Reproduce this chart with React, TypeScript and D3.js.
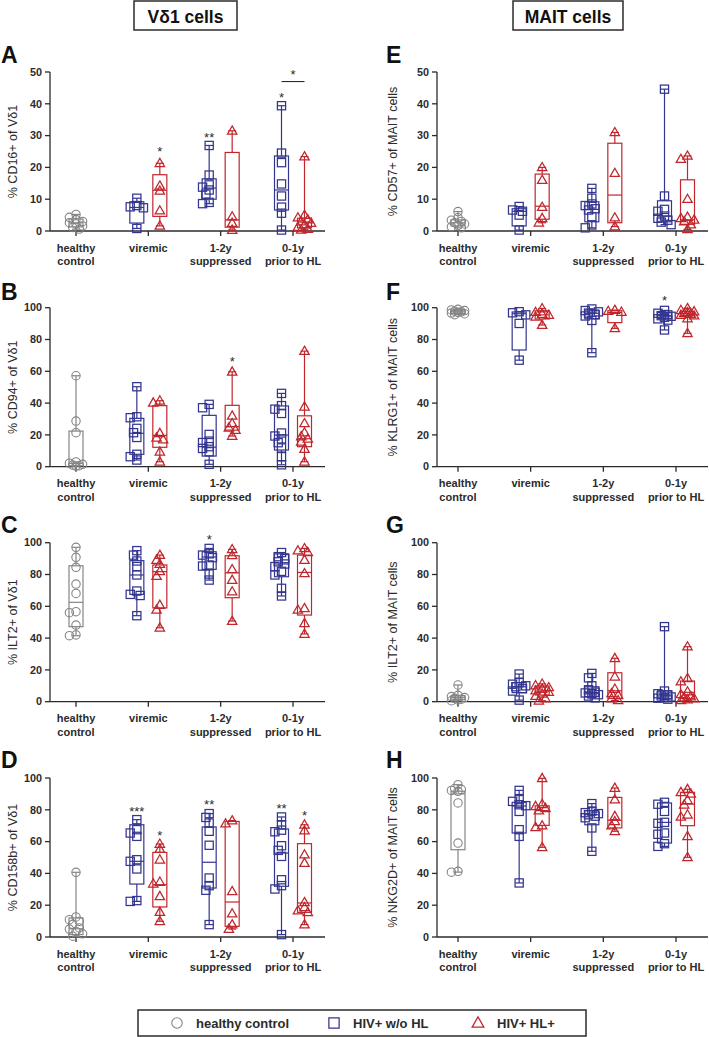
import React from "react";
import * as d3 from "d3";

// ---------- categories & groups ----------
const categoryLabels = [["healthy", "control"], ["viremic"], ["1-2y", "suppressed"], ["0-1y", "prior to HL"]];
const groupCategory = [0, 1, 1, 2, 2, 3, 3];
const groupType = ["hc", "b", "r", "b", "r", "b", "r"];
const legendLabels = ["healthy control", "HIV+ w/o HL", "HIV+ HL+"];

// ---------- Panel A: % CD16+ of Vδ1 ----------
const cd16Points = [
  [5.2, 4.3, 3.6, 3.0, 2.6, 2.2, 1.6, 1.1, 0.6],
  [10.3, 8.0, 7.6, 7.3, 0.8],
  [21.3, 14.2, 12.6, 6.4, 1.6],
  [26.9, 17.6, 14.5, 13.8, 12.9, 11.6, 9.0, 8.6],
  [31.5, 4.5, 2.5, 0.3],
  [39.4, 24.5, 21.5, 14.8, 11.0, 7.5, 5.6, 0.3],
  [23.4, 5.0, 4.2, 3.6, 3.0, 2.5, 2.0, 1.2, 0.6, 0.4],
];
const cd16Box = [
  [0.6, 1.3, 2.6, 3.8, 5.2],
  [0.8, 2.5, 7.4, 9.2, 10.3],
  [1.6, 4.6, 12.8, 17.7, 21.3],
  [8.6, 10.0, 13.5, 16.4, 26.9],
  [0.3, 1.2, 3.5, 24.7, 31.5],
  [0.3, 6.6, 12.9, 23.6, 39.4],
  [0.4, 1.0, 2.8, 4.0, 23.4],
];
const cd16Sig = [{ g: 2, t: "*", v: 26 }, { g: 3, t: "**", v: 30.5 }, { g: 5, t: "*", v: 43 }];
const cd16Bracket = [{ g1: 5, g2: 6, v: 47, t: "*" }];

// ---------- Panel B: % CD94+ of Vδ1 ----------
const cd94Points = [
  [57.2, 28.7, 21.4, 3.0, 2.2, 1.5, 1.0, 0.6, 0.4],
  [50.3, 31.4, 30.8, 24.1, 21.4, 18.4, 7.8, 6.3, 4.2],
  [41.5, 40.2, 21.0, 18.2, 17.0, 9.4, 3.1],
  [39.2, 37.1, 20.3, 16.1, 15.2, 12.6, 11.5, 9.4, 1.5],
  [59.7, 32.0, 27.2, 24.5, 23.0, 19.3],
  [46.1, 38.4, 36.2, 33.5, 21.2, 19.3, 17.5, 15.1, 11.8, 6.3, 1.2],
  [72.7, 37.7, 27.2, 21.4, 19.0, 17.5, 15.7, 11.1, 3.1],
];
const cd94Box = [
  [0.4, 0.6, 2.1, 22.4, 57.2],
  [4.2, 7.8, 21.0, 30.4, 50.3],
  [3.1, 12.2, 19.7, 38.4, 41.5],
  [1.5, 6.7, 12.3, 32.3, 39.2],
  [19.3, 23.0, 25.2, 38.6, 59.7],
  [1.2, 10.5, 19.9, 38.2, 46.1],
  [3.1, 12.6, 17.6, 32.0, 72.7],
];
const cd94Sig = [{ g: 4, t: "*", v: 68 }];

// ---------- Panel C: % ILT2+ of Vδ1 ----------
const ilt2vPoints = [
  [97.1, 90.8, 84.5, 74.0, 68.1, 56.6, 56.0, 48.2, 42.0, 41.5],
  [95.0, 92.2, 88.5, 85.0, 79.7, 69.6, 67.5, 66.8, 54.1],
  [92.2, 89.1, 86.6, 82.0, 79.0, 60.8, 57.7, 46.5],
  [96.4, 93.0, 92.2, 90.6, 86.0, 85.3, 80.3, 76.5],
  [95.8, 92.0, 83.2, 76.5, 69.2, 50.7],
  [93.8, 91.2, 90.0, 88.0, 86.6, 85.0, 82.0, 79.7, 71.3, 66.5],
  [96.4, 95.0, 94.0, 89.1, 80.7, 58.7, 57.7, 49.3, 42.6],
];
const ilt2vBox = [
  [41.5, 47.2, 62.5, 85.5, 97.1],
  [54.1, 67.5, 79.7, 88.7, 95.0],
  [46.5, 59.0, 81.8, 86.0, 92.2],
  [76.5, 83.2, 91.0, 94.3, 96.4],
  [50.7, 65.4, 81.1, 91.8, 95.8],
  [66.5, 78.6, 86.6, 93.0, 93.8],
  [42.6, 54.5, 81.3, 92.2, 96.4],
];
const ilt2vSig = [{ g: 3, t: "*", v: 103.8 }];

// ---------- Panel D: % CD158b+ of Vδ1 ----------
const cd158Points = [
  [40.7, 12.6, 10.9, 9.8, 8.0, 5.7, 5.0, 3.5, 2.0, 0.5],
  [73.8, 67.5, 65.4, 63.3, 48.6, 47.6, 42.8, 22.9, 22.4],
  [58.5, 55.3, 48.6, 34.6, 33.5, 25.6, 15.7, 9.9],
  [77.6, 75.2, 71.7, 66.5, 57.7, 37.1, 32.3, 29.4, 7.8],
  [73.2, 71.3, 28.7, 14.7, 7.8, 5.0],
  [75.5, 70.6, 67.2, 66.2, 57.4, 54.5, 50.7, 36.0, 32.3, 30.2, 1.5],
  [70.6, 66.9, 51.8, 46.5, 21.8, 18.6, 16.6, 15.5, 7.8],
];
const cd158Box = [
  [0.5, 1.5, 5.2, 12.0, 40.7],
  [22.4, 33.3, 47.6, 70.6, 73.8],
  [9.9, 18.9, 32.9, 53.2, 58.5],
  [7.8, 30.8, 47.0, 69.2, 77.6],
  [5.0, 6.7, 22.0, 72.7, 73.2],
  [1.5, 31.9, 52.8, 67.9, 75.5],
  [7.8, 15.5, 21.4, 58.7, 70.6],
];
const cd158Sig = [
  { g: 1, t: "***", v: 81 }, { g: 2, t: "*", v: 65.8 }, { g: 3, t: "**", v: 85.3 },
  { g: 5, t: "**", v: 82.6 }, { g: 6, t: "*", v: 78 },
];

// ---------- Panel E: % CD57+ of MAIT ----------
const cd57Points = [
  [6.1, 4.2, 3.4, 3.0, 2.6, 2.2, 1.8, 1.3, 1.0],
  [7.7, 6.6, 6.2, 5.0, 0.3],
  [20.0, 16.0, 7.5, 4.0, 2.6],
  [13.4, 10.3, 8.5, 8.0, 7.0, 6.6, 4.5, 1.9, 1.0],
  [31.0, 18.2, 4.2, 1.4],
  [44.6, 11.0, 6.8, 6.2, 4.7, 4.0, 3.4, 2.8, 2.0],
  [23.6, 22.6, 10.0, 4.4, 4.0, 3.5, 3.0, 2.0, 0.5],
];
const cd57Box = [
  [1.0, 1.6, 2.6, 3.5, 6.1],
  [0.3, 1.6, 6.2, 7.0, 7.7],
  [2.6, 3.7, 7.8, 17.9, 20.0],
  [1.0, 2.9, 6.8, 9.2, 13.4],
  [1.4, 2.6, 11.3, 27.6, 31.0],
  [2.0, 2.9, 4.7, 9.5, 44.6],
  [0.5, 2.1, 3.5, 16.1, 23.6],
];

// ---------- Panel F: % KLRG1+ of MAIT ----------
const klrg1Points = [
  [99.0, 98.6, 98.2, 97.8, 97.4, 97.0, 96.6, 96.2, 95.6],
  [97.5, 96.8, 95.5, 90.1, 67.0],
  [99.5, 97.2, 96.0, 95.4, 94.2, 89.1],
  [99.2, 98.2, 97.4, 96.6, 95.6, 94.8, 92.0, 71.7],
  [98.5, 97.8, 97.3, 87.0],
  [98.3, 96.5, 95.5, 95.0, 94.6, 94.0, 93.0, 92.2, 86.0],
  [99.6, 98.4, 97.6, 97.0, 96.4, 96.0, 95.4, 95.0, 93.2, 83.9],
];
const klrg1Box = [
  [95.6, 96.4, 97.4, 98.4, 99.0],
  [67.0, 73.4, 96.2, 97.3, 97.5],
  [89.1, 92.9, 95.5, 98.1, 99.5],
  [71.7, 93.0, 96.5, 98.5, 99.2],
  [87.0, 90.6, 97.0, 98.1, 98.5],
  [86.0, 93.3, 95.0, 96.9, 98.3],
  [83.9, 95.0, 96.2, 97.5, 99.6],
];
const klrg1Sig = [{ g: 5, t: "*", v: 106.3 }];

// ---------- Panel G: % ILT2+ of MAIT ----------
const ilt2mPoints = [
  [10.5, 4.0, 3.2, 2.6, 2.1, 1.6, 1.1, 0.6],
  [17.4, 12.0, 11.0, 10.0, 9.4, 8.2, 6.7, 1.0],
  [11.2, 10.2, 9.0, 8.0, 7.0, 6.0, 5.0, 3.5, 2.0, 0.6],
  [17.8, 15.0, 10.0, 7.5, 6.0, 5.5, 5.0, 4.4, 3.6, 2.4],
  [27.3, 15.7, 8.0, 5.2, 4.0, 2.0, 0.8],
  [47.2, 6.7, 5.0, 4.2, 3.6, 3.0, 2.6, 2.2, 1.6],
  [34.6, 14.7, 12.6, 6.3, 4.6, 3.2, 2.6, 2.0, 1.4, 0.8],
];
const ilt2mBox = [
  [0.6, 1.2, 2.5, 3.8, 10.5],
  [1.0, 5.7, 9.4, 12.0, 17.4],
  [0.6, 4.2, 6.7, 9.9, 11.2],
  [2.4, 3.2, 5.7, 9.4, 17.8],
  [0.8, 2.1, 6.9, 18.2, 27.3],
  [1.6, 2.1, 3.6, 6.9, 47.2],
  [0.8, 2.1, 5.9, 13.0, 34.6],
];

// ---------- Panel H: % NKG2D+ of MAIT ----------
const nkg2dPoints = [
  [95.8, 93.4, 92.8, 92.2, 91.6, 84.3, 59.1, 41.3, 40.8],
  [92.2, 86.4, 85.3, 83.2, 82.6, 79.0, 67.5, 63.3, 34.0],
  [99.8, 83.5, 82.2, 81.0, 79.5, 70.0, 69.0, 56.4],
  [83.9, 79.2, 78.2, 77.6, 76.9, 76.0, 75.0, 68.6, 53.9],
  [93.7, 86.4, 75.9, 72.7, 70.0, 66.5],
  [84.7, 83.5, 79.0, 72.1, 71.5, 65.4, 64.6, 58.7, 57.0],
  [92.9, 91.0, 90.0, 86.0, 83.2, 76.9, 75.5, 63.3, 50.1],
];
const nkg2dBox = [
  [40.8, 54.9, 90.0, 91.7, 95.8],
  [34.0, 65.4, 82.4, 84.7, 92.2],
  [56.4, 70.2, 79.5, 82.5, 99.8],
  [53.9, 70.6, 76.9, 79.5, 83.9],
  [66.5, 68.6, 73.4, 87.8, 93.7],
  [57.0, 59.1, 72.1, 84.3, 84.7],
  [50.1, 70.0, 83.6, 91.0, 92.9],
];

// ---------- layout (not data) ----------
const W = 709;
const H = 1037;
const COLORS: Record<string, string> = { hc: "#858585", b: "#33358f", r: "#c0262c" };
const INK = "#2b2b2b";
const FONT = "'Liberation Sans', Arial, Helvetica, sans-serif";

const cols = [
  { axisX: 50, endX: 325, firstCat: 76, lastCat: 293, letterX: 1, titleX: 13 },
  { axisX: 437, endX: 708, firstCat: 458, lastCat: 676, letterX: 386, titleX: 393 },
];
const rows = [
  { top: 72, bottom: 231, letterY: 63 },
  { top: 307.7, bottom: 466.7, letterY: 300 },
  { top: 542.7, bottom: 701.7, letterY: 533 },
  { top: 778, bottom: 937, letterY: 768 },
];

const panels = [
  { letter: "A", col: 0, row: 0, yMax: 50, title: "% CD16+ of Vδ1", pts: cd16Points, box: cd16Box, sig: cd16Sig, brackets: cd16Bracket },
  { letter: "B", col: 0, row: 1, yMax: 100, title: "% CD94+ of Vδ1", pts: cd94Points, box: cd94Box, sig: cd94Sig, brackets: [] },
  { letter: "C", col: 0, row: 2, yMax: 100, title: "% ILT2+ of Vδ1", pts: ilt2vPoints, box: ilt2vBox, sig: ilt2vSig, brackets: [] },
  { letter: "D", col: 0, row: 3, yMax: 100, title: "% CD158b+ of Vδ1", pts: cd158Points, box: cd158Box, sig: cd158Sig, brackets: [] },
  { letter: "E", col: 1, row: 0, yMax: 50, title: "% CD57+ of MAIT cells", pts: cd57Points, box: cd57Box, sig: [], brackets: [] },
  { letter: "F", col: 1, row: 1, yMax: 100, title: "% KLRG1+ of MAIT cells", pts: klrg1Points, box: klrg1Box, sig: klrg1Sig, brackets: [] },
  { letter: "G", col: 1, row: 2, yMax: 100, title: "% ILT2+ of MAIT cells", pts: ilt2mPoints, box: ilt2mBox, sig: [], brackets: [] },
  { letter: "H", col: 1, row: 3, yMax: 100, title: "% NKG2D+ of MAIT cells", pts: nkg2dPoints, box: nkg2dBox, sig: [], brackets: [] },
];

const GROUP_OFFSET = 11.5;
const BOX_W = 14;

// compact swarm: spread close points a little, but keep them around the box
function swarm(values: number[], y: (v: number) => number, minDist = 5, step = 3.3): number[] {
  const order = values.map((v, i) => ({ v, i })).sort((a, b) => b.v - a.v);
  const placed: { x: number; y: number }[] = [];
  const offs = new Array(values.length).fill(0);
  for (const p of order) {
    const py = y(p.v);
    let chosen = 0;
    let best = -1;
    for (let k = 0; k < 5; k++) {
      const dx = k === 0 ? 0 : (k % 2 === 1 ? -1 : 1) * Math.ceil(k / 2) * step;
      const d = placed.length ? Math.min(...placed.map((q) => Math.hypot(q.x - dx, q.y - py))) : Infinity;
      if (d >= minDist) {
        chosen = dx;
        best = Infinity;
        break;
      }
      if (d > best) {
        best = d;
        chosen = dx;
      }
    }
    placed.push({ x: chosen, y: py });
    offs[p.i] = chosen;
  }
  return offs;
}

function Marker({ type, x, y, size = 1 }: { type: string; x: number; y: number; size?: number }) {
  const c = COLORS[type];
  if (type === "hc") return <circle cx={x} cy={y} r={4.2 * size} fill="none" stroke={c} strokeWidth={1.1} />;
  if (type === "b") {
    const s = 4.1 * size;
    return <rect x={x - s} y={y - s} width={2 * s} height={2 * s} fill="none" stroke={c} strokeWidth={1.25} />;
  }
  const h = 4.7 * size;
  const d = `M${x},${y - h * 1.05} L${x + h},${y + h * 0.7} L${x - h},${y + h * 0.7} Z`;
  return <path d={d} fill="none" stroke={c} strokeWidth={1.25} strokeLinejoin="miter" />;
}

function Panel({ p }: { p: (typeof panels)[number] }) {
  const col = cols[p.col];
  const row = rows[p.row];
  const y = d3.scaleLinear().domain([0, p.yMax]).range([row.bottom, row.top]);
  const xCat = d3.scalePoint<number>().domain([0, 1, 2, 3]).range([col.firstCat, col.lastCat]);
  const gx = (g: number) => {
    const c = xCat(groupCategory[g]) as number;
    const t = groupType[g];
    return t === "hc" ? c : t === "b" ? c - GROUP_OFFSET : c + GROUP_OFFSET;
  };
  const ticks = y.ticks(5);
  const midY = (row.top + row.bottom) / 2;

  return (
    <g>
      <text x={col.letterX} y={row.letterY} fontFamily={FONT} fontWeight="bold" fontSize={23} fill="#111">
        {p.letter}
      </text>
      <text
        transform={`translate(${col.titleX},${midY}) rotate(-90)`}
        textAnchor="middle"
        dominantBaseline="central"
        fontFamily={FONT}
        fontSize={12.5}
        fill={INK}
      >
        {p.title}
      </text>
      {/* y axis */}
      <line x1={col.axisX} x2={col.axisX} y1={row.top} y2={row.bottom} stroke={INK} strokeWidth={1.3} />
      {ticks.map((t) => (
        <g key={t}>
          <line x1={col.axisX - 5} x2={col.axisX} y1={y(t)} y2={y(t)} stroke={INK} strokeWidth={1.3} />
          <text x={col.axisX - 8} y={y(t)} dy="0.35em" textAnchor="end" fontFamily={FONT} fontWeight="bold" fontSize={10.8} fill={INK}>
            {t}
          </text>
        </g>
      ))}
      {/* x axis */}
      <line x1={col.axisX} x2={col.endX} y1={row.bottom} y2={row.bottom} stroke={INK} strokeWidth={1.3} />
      {categoryLabels.map((lab, i) => {
        const cx = xCat(i) as number;
        return (
          <g key={i}>
            <line x1={cx} x2={cx} y1={row.bottom} y2={row.bottom + 5} stroke={INK} strokeWidth={1.3} />
            {lab.map((l, j) => (
              <text key={j} x={cx} y={row.bottom + 20.5 + j * 13.3} textAnchor="middle" fontFamily={FONT} fontWeight="bold" fontSize={11} fill={INK}>
                {l}
              </text>
            ))}
          </g>
        );
      })}
      {/* boxes */}
      {p.box.map((b, g) => {
        const cx = gx(g);
        const c = COLORS[groupType[g]];
        const [mn, q1, md, q3, mx] = b;
        return (
          <g key={g} stroke={c} strokeWidth={1.2} fill="none">
            <line x1={cx} x2={cx} y1={y(mx)} y2={y(q3)} />
            <line x1={cx} x2={cx} y1={y(q1)} y2={y(mn)} />
            <line x1={cx - 4} x2={cx + 4} y1={y(mx)} y2={y(mx)} />
            <line x1={cx - 4} x2={cx + 4} y1={y(mn)} y2={y(mn)} />
            <rect x={cx - BOX_W / 2} y={y(q3)} width={BOX_W} height={Math.max(0.5, y(q1) - y(q3))} />
            <line x1={cx - BOX_W / 2} x2={cx + BOX_W / 2} y1={y(md)} y2={y(md)} />
          </g>
        );
      })}
      {/* points */}
      {p.pts.map((vals, g) => {
        const cx = gx(g);
        const offs = swarm(vals, y);
        return (
          <g key={g}>
            {vals.map((v, i) => (
              <Marker key={i} type={groupType[g]} x={cx + offs[i]} y={y(v)} />
            ))}
          </g>
        );
      })}
      {/* significance */}
      {p.sig.map((s, i) => (
        <text key={i} x={gx(s.g)} y={y(s.v) + 7.5} textAnchor="middle" fontFamily={FONT} fontSize={13} fill={INK}>
          {s.t}
        </text>
      ))}
      {p.brackets.map((b, i) => (
        <g key={i}>
          <line x1={gx(b.g1)} x2={gx(b.g2)} y1={y(b.v)} y2={y(b.v)} stroke={INK} strokeWidth={1.1} />
          <text x={(gx(b.g1) + gx(b.g2)) / 2} y={y(b.v) - 3} textAnchor="middle" fontFamily={FONT} fontSize={13} fill={INK}>
            {b.t}
          </text>
        </g>
      ))}
    </g>
  );
}

export default function App() {
  const legendTypes = ["hc", "b", "r"];
  const legendMarkX = [177, 334, 478];
  const legendTextX = [196, 353, 497];
  return (
    <svg width={W} height={H} style={{ position: "absolute", left: 0, top: 0, background: "#fff" }}>
      <rect x={0} y={0} width={W} height={H} fill="#fff" />
      {/* column titles */}
      <rect x={134} y={1} width={103} height={29} fill="none" stroke={INK} strokeWidth={1.5} />
      <text x={185.5} y={22.5} textAnchor="middle" fontFamily={FONT} fontWeight="bold" fontSize={17.5} fill="#111">
        Vδ1 cells
      </text>
      <rect x={513} y={1} width={110} height={29} fill="none" stroke={INK} strokeWidth={1.5} />
      <text x={568} y={22.5} textAnchor="middle" fontFamily={FONT} fontWeight="bold" fontSize={17.5} fill="#111">
        MAIT cells
      </text>
      {panels.map((p) => (
        <Panel key={p.letter} p={p} />
      ))}
      {/* legend */}
      <rect x={138} y={1010} width={448} height={26} fill="none" stroke={INK} strokeWidth={1.5} />
      {legendLabels.map((l, i) => (
        <g key={l}>
          <Marker type={legendTypes[i]} x={legendMarkX[i]} y={1023} size={1.25} />
          <text x={legendTextX[i]} y={1027.5} fontFamily={FONT} fontWeight="bold" fontSize={13} fill={INK}>
            {l}
          </text>
        </g>
      ))}
    </svg>
  );
}
